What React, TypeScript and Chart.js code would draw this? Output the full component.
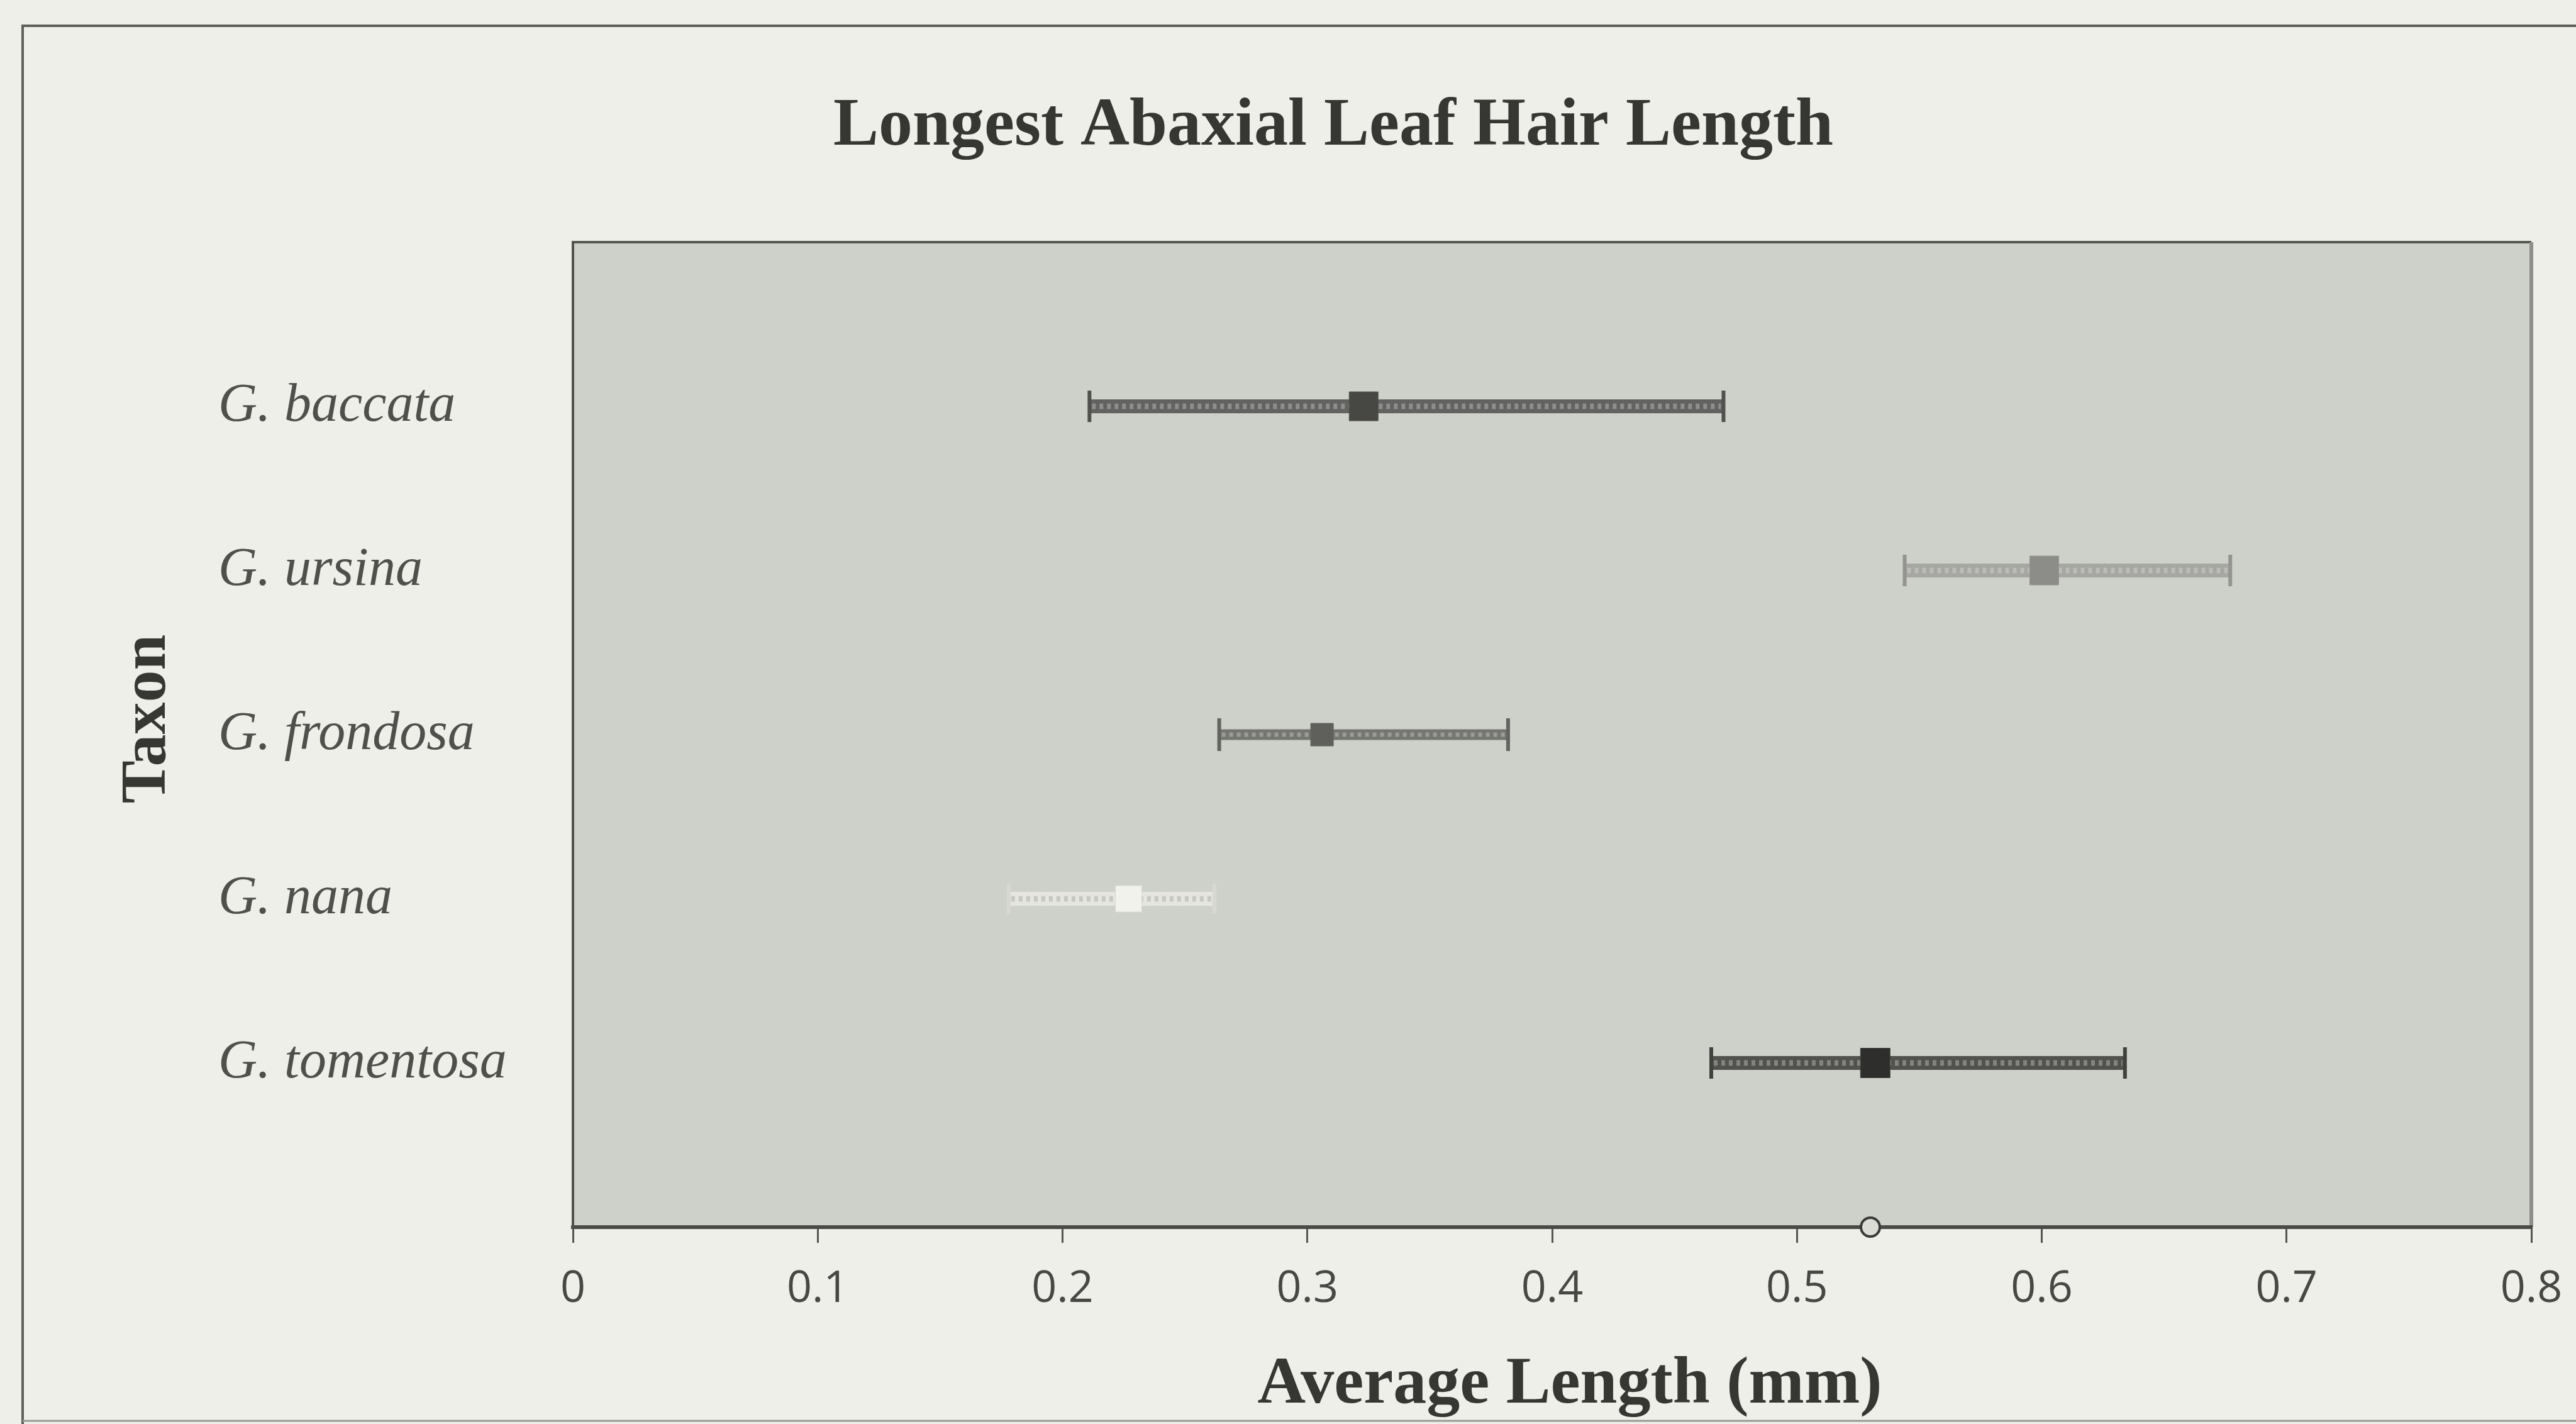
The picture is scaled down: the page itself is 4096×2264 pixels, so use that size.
import React, { useEffect, useRef } from 'react';
import { Chart, registerables } from 'chart.js';

Chart.register(...registerables);

// ---- data ----
const taxa = ['G. baccata', 'G. ursina', 'G. frondosa', 'G. nana', 'G. tomentosa'];
const taxonPosition = [5, 4, 3, 2, 1];
const meanLength = [0.323, 0.601, 0.306, 0.227, 0.532];
const lowLength = [0.211, 0.544, 0.264, 0.178, 0.465];
const highLength = [0.47, 0.677, 0.382, 0.262, 0.634];
const extraPointX = [0.53];
const extraPointY = [0];
const xTickValues = [0, 0.1, 0.2, 0.3, 0.4, 0.5, 0.6, 0.7, 0.8];

const chartTitle = 'Longest Abaxial Leaf Hair Length';
const xAxisTitle = 'Average Length (mm)';
const yAxisTitle = 'Taxon';

// ---- styles ----
const W = 4096;
const H = 2264;
const markerColors = ['#474744', '#8c8d89', '#5f605c', '#f2f2ed', '#2e2e2c'];
const markerSides = [46, 46, 36, 42, 47];
const barColors = ['#626360', '#a6a7a2', '#757672', '#e6e6e0', '#51524e'];
const barWidths = [22, 22, 17, 22, 22];
const capColors = ['#50514d', '#939490', '#636460', '#d8d8d2', '#41423e'];
const capHeights = [50, 50, 52, 48, 50];

const decorPlugin = {
  id: 'decor',
  beforeDraw(chart: any) {
    const { ctx, chartArea: a } = chart;
    ctx.save();
    ctx.fillStyle = '#efefe9';
    ctx.fillRect(0, 0, W, H);
    // outer frame
    ctx.strokeStyle = '#5e5e5a';
    ctx.lineWidth = 4;
    ctx.beginPath();
    ctx.moveTo(W + 10, 41);
    ctx.lineTo(36, 41);
    ctx.lineTo(36, H + 10);
    ctx.stroke();
    ctx.strokeStyle = '#9a9a95';
    ctx.lineWidth = 3;
    ctx.beginPath();
    ctx.moveTo(36, 2259);
    ctx.lineTo(W + 10, 2259);
    ctx.stroke();
    // plot background
    ctx.fillStyle = '#ced1c9';
    ctx.fillRect(a.left, a.top, a.right - a.left, a.bottom - a.top);
    // top + right border of plot
    ctx.strokeStyle = '#565752';
    ctx.lineWidth = 4;
    ctx.beginPath();
    ctx.moveTo(a.left, a.top);
    ctx.lineTo(a.right, a.top);
    ctx.stroke();
    ctx.strokeStyle = '#8e8f8a';
    ctx.lineWidth = 6;
    ctx.beginPath();
    ctx.moveTo(a.right, a.top);
    ctx.lineTo(a.right, a.bottom);
    ctx.stroke();
    // titles
    ctx.fillStyle = '#363633';
    ctx.textAlign = 'center';
    ctx.textBaseline = 'alphabetic';
    ctx.font = 'bold 108px "Liberation Serif", "DejaVu Serif", serif';
    ctx.fillText(chartTitle, 2120, 230);
    ctx.font = 'bold 106px "Liberation Serif", "DejaVu Serif", serif';
    ctx.fillText(xAxisTitle, 2496, 2230);
    ctx.translate(236, 1143);
    ctx.rotate(-Math.PI / 2);
    ctx.textBaseline = 'middle';
    ctx.font = 'bold 102px "Liberation Serif", "DejaVu Serif", serif';
    ctx.fillText(yAxisTitle, 0, 0);
    ctx.restore();
  },
  beforeDatasetsDraw(chart: any) {
    const { ctx } = chart;
    const xs = chart.scales.x;
    const ys = chart.scales.y;
    ctx.save();
    for (let i = 0; i < taxa.length; i++) {
      const x1 = xs.getPixelForValue(lowLength[i]);
      const x2 = xs.getPixelForValue(highLength[i]);
      const y = ys.getPixelForValue(taxonPosition[i]);
      // bar
      ctx.lineCap = 'butt';
      ctx.setLineDash([]);
      ctx.strokeStyle = barColors[i];
      ctx.lineWidth = barWidths[i];
      ctx.beginPath();
      ctx.moveTo(x1, y);
      ctx.lineTo(x2, y);
      ctx.stroke();
      // texture
      ctx.strokeStyle = i === 3 ? 'rgba(165,165,160,0.45)' : 'rgba(235,235,230,0.33)';
      ctx.lineWidth = barWidths[i] * 0.4;
      ctx.setLineDash([6, 6]);
      ctx.beginPath();
      ctx.moveTo(x1 + 4, y);
      ctx.lineTo(x2 - 4, y);
      ctx.stroke();
      ctx.setLineDash([]);
      // caps
      ctx.strokeStyle = capColors[i];
      ctx.lineWidth = 6;
      const h = capHeights[i] / 2;
      ctx.beginPath();
      ctx.moveTo(x1, y - h);
      ctx.lineTo(x1, y + h);
      ctx.moveTo(x2, y - h);
      ctx.lineTo(x2, y + h);
      ctx.stroke();
    }
    ctx.restore();
  },
};

export default function App() {
  const ref = useRef<HTMLCanvasElement | null>(null);
  useEffect(() => {
    const canvas = ref.current;
    if (!canvas) return;
    const chart = new Chart(canvas, {
      type: 'scatter',
      data: {
        datasets: [
          {
            label: 'Mean',
            data: taxonPosition.map((y, i) => ({ x: meanLength[i], y })),
            pointStyle: 'rect',
            pointRadius: markerSides.map((s) => s / Math.SQRT2),
            backgroundColor: markerColors,
            borderColor: capColors,
            borderWidth: 1,
            clip: false,
          },
          {
            label: 'Marker',
            data: extraPointX.map((x, i) => ({ x, y: extraPointY[i] })),
            pointStyle: 'circle',
            pointRadius: 15,
            backgroundColor: '#dcdcd6',
            borderColor: '#3a3a38',
            borderWidth: 4,
            clip: false,
          },
        ],
      },
      options: {
        animation: false,
        responsive: false,
        devicePixelRatio: 1,
        events: [],
        layout: { padding: { left: 347, top: 385, right: 71, bottom: 0 } },
        plugins: {
          legend: { display: false },
          title: { display: false },
          tooltip: { enabled: false },
        },
        scales: {
          x: {
            type: 'linear',
            min: 0,
            max: 0.8,
            afterBuildTicks: (scale: any) => {
              scale.ticks = xTickValues.map((v) => ({ value: v }));
            },
            afterFit: (scale: any) => {
              scale.height = 313;
            },
            grid: {
              drawOnChartArea: false,
              drawTicks: true,
              tickLength: 25,
              color: '#555552',
              lineWidth: 3,
            },
            border: { display: true, color: '#4a4a47', width: 6 },
            ticks: {
              padding: 18,
              color: '#474744',
              font: { family: '"Open Sans", "Liberation Sans", sans-serif', size: 70, lineHeight: 1.6 },
              callback: (v: any) => String(Number(Number(v).toFixed(1))),
              maxRotation: 0,
              autoSkip: false,
            },
          },
          y: {
            type: 'linear',
            min: 0,
            max: 6,
            afterBuildTicks: (scale: any) => {
              scale.ticks = taxonPosition.map((v) => ({ value: v }));
            },
            afterFit: (scale: any) => {
              scale.width = 564;
            },
            grid: { display: true, drawOnChartArea: false, drawTicks: false, color: 'rgba(0,0,0,0)' },
            border: { display: true, color: '#52524f', width: 4 },
            ticks: {
              crossAlign: 'far',
              padding: 0,
              color: '#4f4f4c',
              font: { family: '"Liberation Serif", "DejaVu Serif", serif', size: 86, style: 'italic' },
              callback: (v: any) => {
                const idx = taxonPosition.indexOf(Number(v));
                return idx >= 0 ? taxa[idx] : '';
              },
              autoSkip: false,
            },
          },
        },
      },
      plugins: [decorPlugin],
    } as any);
    return () => chart.destroy();
  }, []);
  return (
    <div style={{ position: 'fixed', left: 0, top: 0, width: W, height: H, background: '#efefe9' }}>
      <canvas ref={ref} width={W} height={H} style={{ width: W, height: H, display: 'block' }} />
    </div>
  );
}
